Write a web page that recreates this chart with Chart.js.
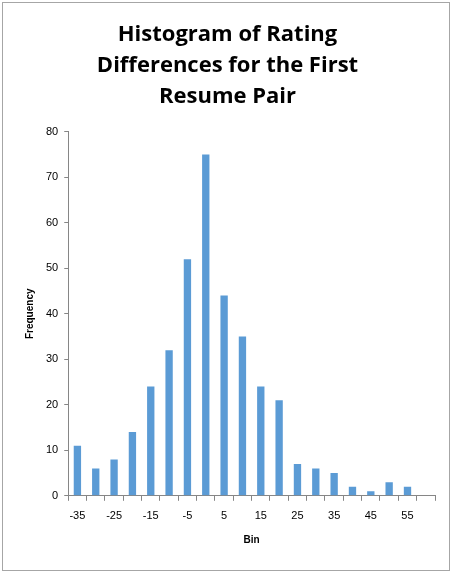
<!DOCTYPE html>
<html>
<head>
<meta charset="utf-8">
<script src="https://cdn.jsdelivr.net/npm/chart.js@4"></script>
<style>
  body { margin: 0; background: #fff; }
  #box { position: absolute; left: 2px; top: 2px; width: 446px; height: 567px; border: 1px solid #a6a6a6; }
  canvas { display: block; }
</style>
</head>
<body>
<div id="box"><canvas id="hist" width="446" height="567"></canvas></div>
<script>
const bins = ['-35', '-30', '-25', '-20', '-15', '-10', '-5', '0', '5', '10', '15', '20', '25', '30', '35', '40', '45', '50', '55', 'More'];
const frequency = [11, 6, 8, 14, 24, 32, 52, 75, 44, 35, 24, 21, 7, 6, 5, 2, 1, 3, 2, 0];
const yTicks = [0, 10, 20, 30, 40, 50, 60, 70, 80];

const ctx = document.getElementById('hist');

new Chart(ctx, {
    type: 'bar',
    data: {
        labels: bins,
        datasets: [{
            label: 'Frequency',
            data: frequency,
            backgroundColor: '#5b9bd5',
            barPercentage: 0.4,
            categoryPercentage: 1
        }]
    },
    options: {
        responsive: false,
        animation: false,
        layout: { padding: { left: 17, right: 14, top: 16, bottom: 24 } },
        plugins: {
            legend: { display: false },
            tooltip: { enabled: false },
            title: {
                display: true,
                text: ['Histogram of Rating', 'Differences for the First', 'Resume Pair'],
                color: '#000',
                font: { family: 'Open Sans', size: 22, weight: 'bold', lineHeight: 1.42 },
                padding: { top: 0, bottom: 19 }
            }
        },
        scales: {
            x: {
                grid: { drawOnChartArea: false, tickLength: 5, color: '#868686', offset: true },
                border: { color: '#868686' },
                ticks: {
                    autoSkip: false,
                    maxRotation: 0,
                    padding: 9,
                    color: '#000',
                    font: { family: 'Liberation Sans', size: 11 },
                    callback: function (val, i) {
                        return (i % 2 === 0 && i < 19) ? bins[i] : '';
                    }
                },
                title: {
                    display: true,
                    text: 'Bin',
                    color: '#000',
                    padding: { top: 2, bottom: 0 },
                    font: { family: 'Liberation Sans', size: 10, weight: 'bold' }
                }
            },
            y: {
                min: 0,
                max: 80,
                afterBuildTicks: function (axis) {
                    axis.ticks = yTicks.map(v => ({ value: v }));
                },
                grid: { drawOnChartArea: false, tickLength: 4, color: '#868686' },
                border: { color: '#868686' },
                ticks: {
                    color: '#000',
                    font: { family: 'Liberation Sans', size: 11 },
                    padding: 6
                },
                title: {
                    display: true,
                    text: 'Frequency',
                    color: '#000',
                    font: { family: 'Liberation Sans', size: 10, weight: 'bold' }
                }
            }
        }
    }
});
</script>
</body>
</html>
